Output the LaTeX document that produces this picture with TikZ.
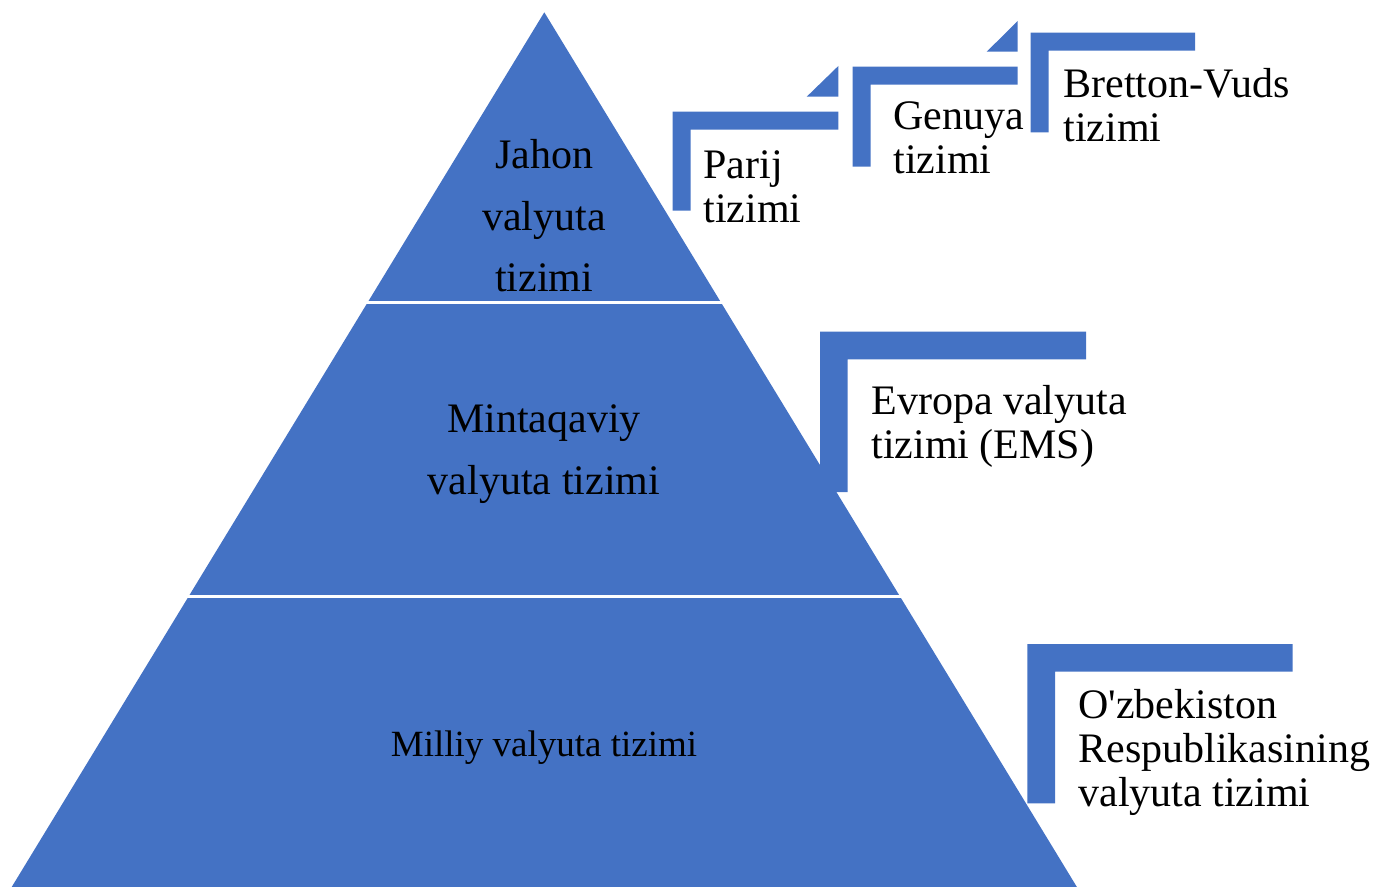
\documentclass[tikz,border=0pt]{standalone}
\usepackage{fontspec}
\setmainfont{Liberation Serif}
\definecolor{pyrblue}{HTML}{4472C4}
% half frame: x, y, length, height, thickness
\newcommand\halfframe[5]{\fill[pyrblue] (#1,#2) -- ++(#3,0) -- ++(0,#5) -- (#1+#5,#2+#5) -- (#1+#5,#2+#4) -- (#1,#2+#4) -- cycle;}

\begin{document}
\begin{tikzpicture}[x=0.5pt,y=-0.5pt,
  pyrtext/.style={anchor=base,align=center,inner sep=0pt,font=\fontsize{21}{30.8}\selectfont},
  sidetext/.style={anchor=base west,align=left,inner sep=0pt,font=\fontsize{21}{22}\selectfont}]
\useasboundingbox (0,0) rectangle (1380,887);

% pyramid
\fill[pyrblue] (544.3,12.3) -- (1076.9,887) -- (11.7,887) -- cycle;
\draw[white,line width=1.75pt] (340,302.5) -- (750,302.5);
\draw[white,line width=1.65pt] (160,596.7) -- (930,596.7);

\node[pyrtext] (jahon) at (544,292) {Jahon\\valyuta\\tizimi};
\node[pyrtext] (mintaqa) at (544,494) {Mintaqaviy\\valyuta tizimi};
\node[pyrtext,font=\fontsize{18.5}{22}\selectfont] (milliy) at (544,756) {Milliy valyuta tizimi};

% side frames
\halfframe{672.5}{111.7}{165.8}{99}{18}
\fill[pyrblue] (806.7,96.7) -- (838.3,96.7) -- (838.3,66) -- cycle;
\halfframe{852.7}{66.7}{165}{100}{18}
\fill[pyrblue] (986.7,51.7) -- (1017.7,51.7) -- (1017.7,21) -- cycle;
\halfframe{1030.7}{32.7}{164.3}{99.6}{18}
\halfframe{820}{331.7}{266}{160.3}{27.6}
\halfframe{1027.3}{644}{265.4}{159.3}{27.7}

\node[sidetext] (parij) at (703,222.5) {Parij\\tizimi};
\node[sidetext] (genuya) at (893,173.5) {Genuya\\tizimi};
\node[sidetext] (bretton) at (1063,142) {Bretton-Vuds\\tizimi};
\node[sidetext] (evropa) at (871,458.5) {Evropa valyuta\\tizimi (EMS)};
\node[sidetext] (ozbek) at (1078,806.5) {O\textquotesingle zbekiston\\Respublikasining\\valyuta tizimi};
\end{tikzpicture}
\end{document}
